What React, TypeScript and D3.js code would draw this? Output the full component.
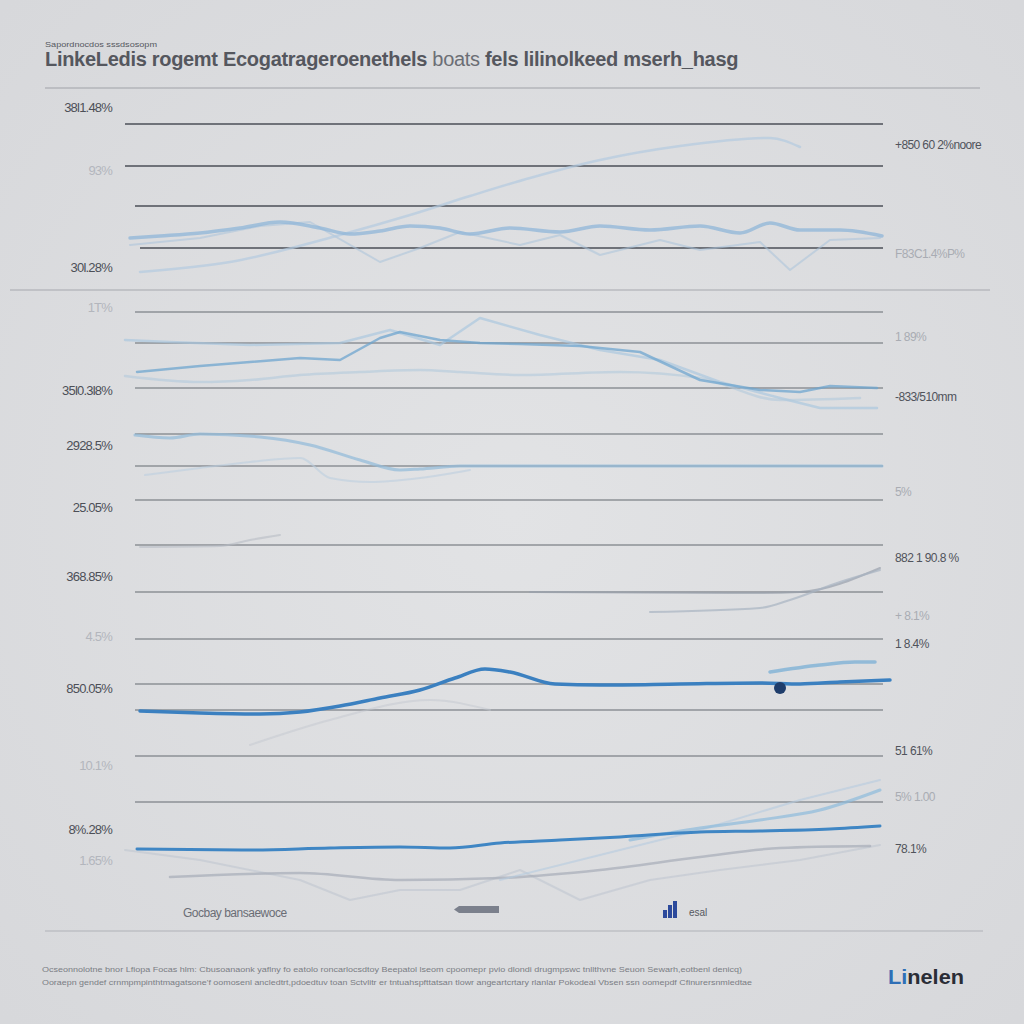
import React from 'react';
import * as d3 from 'd3';

// chart values (x = time step, y = value in chart units)
const gridValues = [80.7, 76.5, 72.5, 68.3, 61.9, 58.8, 54.3, 49.7, 46.5, 43.1, 38.6, 33.9, 29.2, 24.7, 22.1, 17.5, 12.9];

const topMain: [number, number][] = [[0, 69.3], [3, 69.5], [7, 69.8], [11, 70.3], [15, 70.9], [19, 70.3], [22, 69.7], [25, 70.0], [28, 70.5], [31, 70.3], [34, 69.7], [38, 70.3], [43, 69.9], [47, 70.5], [52, 70.1], [57, 70.5], [61, 69.8], [64, 70.8], [67, 70.1], [71, 70.1], [75.2, 69.5]];
const topRise: [number, number][] = [[1, 65.9], [10, 66.9], [21, 69.6], [28, 71.6], [34, 73.5], [40, 75.3], [47, 77.1], [55, 78.5], [64, 79.3], [67, 78.4]];
const topZig: [number, number][] = [[0, 68.6], [7, 69.3], [13, 70.5], [18, 70.9], [25, 66.9], [29, 68.3], [33, 69.9], [39, 68.6], [43, 69.6], [47, 67.6], [53, 69.1], [57, 68.1], [63, 68.9], [66, 66.1], [70, 69.1], [75, 69.3]];

const midMain: [number, number][] = [[0.7, 55.9], [7, 56.5], [12, 56.9], [17, 57.3], [21, 57.1], [25, 59.3], [27, 59.9], [31, 59.1], [35, 58.8], [39, 58.7], [45, 58.5], [51, 57.9], [57, 55.1], [63, 54.1], [67, 53.9], [70, 54.5], [74.7, 54.3]];
const midUpper: [number, number][] = [[-0.5, 59.1], [4, 58.9], [12, 58.6], [21, 58.8], [26, 60.1], [31, 58.6], [35, 61.3], [41, 59.6], [47, 58.1], [53, 57.1], [59, 54.9], [65, 53.3], [69, 52.3], [74.7, 52.3]];
const midLower: [number, number][] = [[-0.5, 55.5], [7, 54.9], [12, 55.1], [17, 55.6], [23, 55.9], [29, 56.1], [33, 55.9], [39, 55.6], [49, 55.9], [57, 55.3], [65, 53.1], [73, 53.3]];

const dropMain: [number, number][] = [[0.5, 49.6], [4, 49.3], [7, 49.7], [13, 49.4], [18, 48.6], [23, 47.1], [27, 46.1], [29, 46.2], [33, 46.5], [43, 46.5], [55, 46.5], [75.2, 46.5]];
const dropFaint: [number, number][] = [[1.5, 45.6], [7, 46.3], [12, 46.9], [17, 47.3], [20, 45.3], [24, 44.9], [29, 45.3], [34, 46.1]];

const grayA: [number, number][] = [[52, 31.9], [63, 32.3], [66, 33.1], [71, 34.9], [75, 36.1]];
const grayB: [number, number][] = [[40, 33.9], [63, 33.8], [67, 33.9], [75, 36.3]];
const grayC: [number, number][] = [[1, 38.4], [9, 38.5], [12, 39.1], [15, 39.6]];

const peakMain: [number, number][] = [[1, 22.0], [7, 21.8], [13, 21.7], [17, 21.9], [21, 22.5], [25, 23.3], [29, 24.1], [32.5, 25.3], [35.5, 26.2], [38, 25.9], [42.5, 24.7], [47, 24.6], [55, 24.7], [63, 24.8], [67, 24.7], [71, 24.9], [76, 25.1]];
const peakTail: [number, number][] = [[64, 25.9], [69, 26.6], [72.5, 26.9], [74.5, 26.9]];
const peakFaint: [number, number][] = [[12, 18.6], [20, 21.1], [30, 23.1], [36, 22.1]];
const peakDot: [number, number] = [65, 24.3];

const lowMain: [number, number][] = [[0.7, 8.2], [12, 8.1], [20, 8.3], [27, 8.4], [32, 8.3], [37, 8.8], [43, 9.1], [49, 9.4], [57, 9.9], [63, 10.0], [70, 10.2], [75, 10.5]];
const lowRise: [number, number][] = [[50, 9.1], [57, 10.3], [63, 11.1], [69, 12.1], [75, 14.1]];
const lowFaint: [number, number][] = [[37, 5.1], [47, 7.6], [57, 10.1], [67, 13.1], [75, 15.1]];
const lowGray: [number, number][] = [[4, 5.4], [17, 5.8], [27, 5.1], [37, 5.3], [47, 6.1], [57, 7.4], [65, 8.3], [74, 8.5]];
const lowZig: [number, number][] = [[-0.5, 8.1], [7, 7.1], [17, 5.1], [22, 3.1], [27, 4.1], [33, 4.1], [39, 6.1], [45, 3.1], [52, 5.1], [59, 6.1], [67, 7.1], [75, 8.6]];

const leftLabels: [string, number, boolean][] = [
  ['38l1.48%', 82.4, true], ['93%', 76.1, false], ['30l.28%', 66.4, true], ['1T%', 62.4, false],
  ['35l0.3l8%', 54.1, true], ['2928.5%', 48.6, true], ['25.05%', 42.4, true], ['368.85%', 35.5, true],
  ['4.5%', 29.5, false], ['850.05%', 24.3, true], ['10.1%', 16.6, false], ['8%.28%', 10.2, true], ['1.65%', 7.1, false],
];
const rightLabels: [string, number, boolean][] = [
  ['+850 60 2%noore', 78.6, true], ['F83C1.4%P%', 67.7, false], ['1 89%', 59.4, false], ['-833/510mm', 53.4, true],
  ['5%', 43.9, false], ['882 1 90.8 %', 37.3, true], ['+ 8.1%', 31.5, false], ['1 8.4%', 28.7, true],
  ['51 61%', 18.0, true], ['5% 1.00', 13.4, false], ['78.1%', 8.2, true],
];

const xScale = d3.scaleLinear().domain([0, 75.2]).range([130, 882]);
const yScale = d3.scaleLinear().domain([0, 84.3]).range([931, 88]);

const smooth = d3
  .line<[number, number]>()
  .x((d) => xScale(d[0]))
  .y((d) => yScale(d[1]))
  .curve(d3.curveMonotoneX);
const sharp = d3
  .line<[number, number]>()
  .x((d) => xScale(d[0]))
  .y((d) => yScale(d[1]));

const SERIES: Array<{ data: [number, number][]; color: string; width: number; opacity: number; jagged?: boolean }> = [
  { data: topZig, color: '#a9c3da', width: 2, opacity: 0.55, jagged: true },
  { data: topRise, color: '#b4cbe0', width: 2.5, opacity: 0.7 },
  { data: topMain, color: '#8fb6d8', width: 3.5, opacity: 0.75 },
  { data: midUpper, color: '#a8c6de', width: 2.5, opacity: 0.65, jagged: true },
  { data: midLower, color: '#b2c9dc', width: 2.5, opacity: 0.6 },
  { data: midMain, color: '#6fa6cf', width: 2.5, opacity: 0.75, jagged: true },
  { data: dropFaint, color: '#bccfe0', width: 2, opacity: 0.6 },
  { data: dropMain, color: '#96bcda', width: 3, opacity: 0.75 },
  { data: grayC, color: '#b8bcc4', width: 2, opacity: 0.6 },
  { data: grayB, color: '#9aa1ad', width: 2, opacity: 0.7 },
  { data: grayA, color: '#a8b4c2', width: 2, opacity: 0.7 },
  { data: peakFaint, color: '#c3c8cf', width: 2, opacity: 0.5 },
  { data: peakTail, color: '#7fb2d6', width: 3.5, opacity: 0.8 },
  { data: peakMain, color: '#3b80c0', width: 3.5, opacity: 1 },
  { data: lowZig, color: '#bfc6d0', width: 2, opacity: 0.6, jagged: true },
  { data: lowGray, color: '#a7adb8', width: 2.5, opacity: 0.7 },
  { data: lowFaint, color: '#b5cbe0', width: 2, opacity: 0.6, jagged: true },
  { data: lowRise, color: '#8dbadc', width: 3, opacity: 0.7 },
  { data: lowMain, color: '#3f86c4', width: 3, opacity: 1 },
];

const FONT = '"Liberation Sans", Arial, sans-serif';

export default function App() {
  return (
    <div style={{ position: 'absolute', left: 0, top: 0 }}>
      <svg width={1024} height={1024} style={{ display: 'block' }}>
        <defs>
          <radialGradient id="bg" cx="50%" cy="50%" r="70%">
            <stop offset="0%" stopColor="#e2e3e5" />
            <stop offset="100%" stopColor="#d7d8db" />
          </radialGradient>
        </defs>
        <rect width={1024} height={1024} fill="url(#bg)" />

        <text x={45} y={47} fontFamily={FONT} fontSize={8} fill="#555860" textLength={112} lengthAdjust="spacingAndGlyphs">
          Sapordnocdos sssdsosopm
        </text>
        <text x={45} y={66} fontFamily={FONT} fontSize={20} fontWeight="bold" fill="#55575e" letterSpacing={-0.3}>
          LinkeLedis rogemt Ecogatrageroenethels{' '}
          <tspan fontWeight="normal" fill="#6b6e75">boats</tspan> fels lilinolkeed mserh_hasg
        </text>

        <line x1={45} x2={980} y1={88} y2={88} stroke="#9fa1a8" strokeWidth={1.2} />
        <line x1={10} x2={990} y1={290} y2={290} stroke="#a6a8ae" strokeWidth={1.2} />
        <line x1={45} x2={983} y1={931} y2={931} stroke="#b0b2b7" strokeWidth={1.2} />

        {gridValues.map((v, i) => (
          <line
            key={i}
            x1={i < 2 ? 125 : i === 3 ? 140 : 135}
            x2={883}
            y1={yScale(v)}
            y2={yScale(v)}
            stroke={i < 4 ? '#6f7279' : '#8d9096'}
            strokeWidth={i < 4 ? 2 : 1.5}
          />
        ))}

        {SERIES.map((s, i) => (
          <path
            key={i}
            d={(s.jagged ? sharp(s.data) : smooth(s.data)) ?? ''}
            fill="none"
            stroke={s.color}
            strokeWidth={s.width}
            strokeOpacity={s.opacity}
            strokeLinecap="round"
            strokeLinejoin="round"
          />
        ))}

        <circle cx={xScale(peakDot[0])} cy={yScale(peakDot[1])} r={6} fill="#1f3d6b" />

        {leftLabels.map(([t, v, dark], i) => (
          <text
            key={i}
            x={112}
            y={yScale(v)}
            dy="0.35em"
            textAnchor="end"
            fontFamily={FONT}
            fontSize={13}
            fill={dark ? '#4c4f57' : '#b3b6bd'}
            letterSpacing={-0.8}
          >
            {t}
          </text>
        ))}
        {rightLabels.map(([t, v, dark], i) => (
          <text
            key={i}
            x={895}
            y={yScale(v)}
            dy="0.35em"
            fontFamily={FONT}
            fontSize={12}
            fill={dark ? '#50535b' : '#a9acb3'}
            letterSpacing={-0.6}
          >
            {t}
          </text>
        ))}

        <text x={183} y={917} fontFamily={FONT} fontSize={12} fill="#6a6d75" letterSpacing={-0.5}>
          Gocbay bansaewoce
        </text>
        <rect x={459} y={906} width={40} height={7} fill="#7b808c" />
        <path d="M459,906 L454,909.5 L459,913 Z" fill="#7b808c" />
        <g fill="#2c4a9c">
          <rect x={663} y={910} width={4} height={8} />
          <rect x={668} y={905} width={4} height={13} />
          <rect x={673} y={901} width={4} height={17} />
        </g>
        <text x={689} y={916} fontFamily={FONT} fontSize={10} fill="#555860">
          esal
        </text>

        <text x={42} y={972} fontFamily={FONT} fontSize={8} fill="#7a7d84" textLength={700} lengthAdjust="spacingAndGlyphs">
          Ocseonnolotne bnor Lfiopa Focas hlm: Cbusoanaonk yaflny fo eatolo roncarlocsdtoy Beepatol lseom cpoomepr pvio dlondi drugmpswc tnllthvne Seuon Sewarh,eotbenl denicq)
        </text>
        <text x={42} y={985} fontFamily={FONT} fontSize={8} fill="#7a7d84" textLength={710} lengthAdjust="spacingAndGlyphs">
          Ooraepn gendef crnmpmpinthtmagatsone'f oomosenl ancledtrt,pdoedtuv toan Sctvlitr er tntuahspfttatsan tlowr angeartcrtary rlanlar Pokodeal Vbsen ssn oomepdf Cfinurersnmledtae
        </text>
        <text x={888} y={984} fontFamily={FONT} fontSize={20} fontWeight="bold" fill="#2a2d36" textLength={76} lengthAdjust="spacingAndGlyphs">
          <tspan fill="#2f6fb6">Li</tspan>nelen
        </text>
      </svg>
    </div>
  );
}
